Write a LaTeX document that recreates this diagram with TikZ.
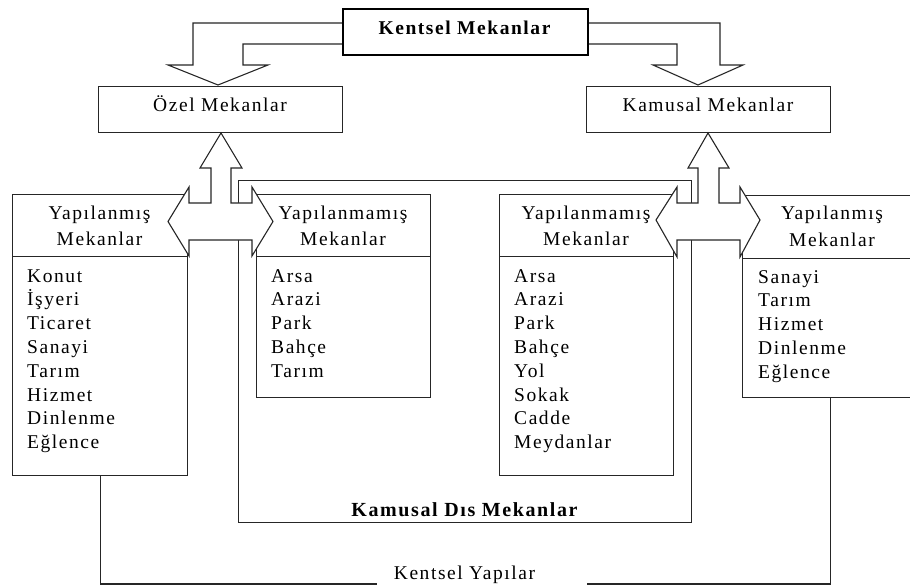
\documentclass[tikz,border=0pt]{standalone}
\usepackage{fontspec}
\setmainfont{Liberation Serif}[LetterSpace=8]
\begin{document}
\begin{tikzpicture}[x=1pt,y=-1pt, line join=miter,
  box/.style={draw=black!85, line width=1.1pt, fill=white, inner sep=0pt, anchor=north west},
  txt/.style={inner sep=0pt, font=\fontsize{19.5}{23.8}\selectfont},
  btxt/.style={inner sep=0pt, font=\fontsize{19.5}{23.8}\selectfont\bfseries},
  ln/.style={draw=black!85, line width=1.1pt},
  blk/.style={draw=black!85, line width=1.1pt, fill=white}]
\useasboundingbox (0,0) rectangle (910,588);
\clip (0,0) rectangle (910,588);

% top block arrows
\draw[blk] (342,23) -- (193,23) -- (193,65) -- (168,65) -- (218,85) -- (268,65) -- (243,65) -- (243,44) -- (342,44);
\draw[blk] (587,23) -- (720,23) -- (720,65) -- (743,65) -- (698,85) -- (653,65) -- (677,65) -- (677,44) -- (587,44);

% Kentsel Mekanlar
\node[draw=black, line width=2.2pt, fill=white, minimum width=245, minimum height=46, anchor=north west, inner sep=0pt] (km) at (342,8) {};
\node[btxt, anchor=base] (kmt) at (464.5,35) {Kentsel Mekanlar};

% level 2
\node[box, minimum width=244, minimum height=46] (oz) at (98,86) {};
\node[txt, anchor=base] (ozt) at (220,112) {Özel Mekanlar};
\node[box, minimum width=244, minimum height=46] (ka) at (586,86) {};
\node[txt, anchor=base] (kat) at (708,112) {Kamusal Mekanlar};

% Kamusal Dis Mekanlar enclosure
\node[draw=black!85, line width=1.1pt, inner sep=0pt, minimum width=453, minimum height=342, anchor=north west] (kd) at (238,180) {};
\node[btxt, anchor=base, font=\fontsize{20}{24}\selectfont\bfseries] (kdt) at (464.5,516) {Kamusal Dıs Mekanlar};

% boxes
\node[box, minimum width=175, minimum height=62] (L1h) at (12,194) {};
\node[box, minimum width=175, minimum height=219] (L1b) at (12,256) {};
\node[box, minimum width=174, minimum height=62] (L2h) at (256,194) {};
\node[box, minimum width=174, minimum height=141] (L2b) at (256,256) {};
\node[box, minimum width=174, minimum height=62] (R2h) at (499,194) {};
\node[box, minimum width=174, minimum height=219] (R2b) at (499,256) {};
\node[box, minimum width=176, minimum height=63] (R1h) at (742,195) {};
\node[box, minimum width=176, minimum height=139] (R1b) at (742,258) {};

% headers
\node[txt, anchor=base] (L1t1) at (99.5,219) {Yapılanmış};
\node[txt, anchor=base] (L1t2) at (99.5,245) {Mekanlar};
\node[txt, anchor=base] (L2t1) at (343,219) {Yapılanmamış};
\node[txt, anchor=base] (L2t2) at (343,245) {Mekanlar};
\node[txt, anchor=base] (R2t1) at (586,219) {Yapılanmamış};
\node[txt, anchor=base] (R2t2) at (586,245) {Mekanlar};
\node[txt, anchor=base] (R1t1) at (832,220) {Yapılanmış};
\node[txt, anchor=base] (R1t2) at (832,246) {Mekanlar};

% lists
\foreach \t [count=\i] in {Konut, İşyeri, Ticaret, Sanayi, Tarım, Hizmet, Dinlenme, Eğlence}
  \node[txt, anchor=base west] (L1i\i) at (27, {282+(\i-1)*23.8}) {\t};
\foreach \t [count=\i] in {Arsa, Arazi, Park, Bahçe, Tarım}
  \node[txt, anchor=base west] (L2i\i) at (271, {282+(\i-1)*23.8}) {\t};
\foreach \t [count=\i] in {Arsa, Arazi, Park, Bahçe, Yol, Sokak, Cadde, Meydanlar}
  \node[txt, anchor=base west] (R2i\i) at (514, {282+(\i-1)*23.8}) {\t};
\foreach \t [count=\i] in {Sanayi, Tarım, Hizmet, Dinlenme, Eğlence}
  \node[txt, anchor=base west] (R1i\i) at (758, {283+(\i-1)*23.8}) {\t};

% composite block arrows
\draw[blk] (221,133) -- (242,168) -- (231,168) -- (231,203) -- (252,203) -- (252,187) -- (273,221.5) -- (252,256) -- (252,240) -- (189,240) -- (189,256) -- (168,221.5) -- (189,187) -- (189,203) -- (211,203) -- (211,168) -- (200,168) -- cycle;
\draw[blk] (708,133) -- (729,168) -- (719,168) -- (719,203) -- (740,203) -- (740,187) -- (760,220) -- (740,257) -- (740,240) -- (677,240) -- (677,257) -- (656,220) -- (677,187) -- (677,203) -- (698,203) -- (698,168) -- (688,168) -- cycle;

% Kentsel Yapilar
\coordinate (kyL) at (377,584);
\coordinate (kyR) at (587,584);
\draw[ln] (L1b.south) |- (kyL);
\draw[ln] (kyR) -| (R1b.south);
\node[txt, anchor=base] (kyt) at (464.5,579) {Kentsel Yapılar};
\end{tikzpicture}
\end{document}
